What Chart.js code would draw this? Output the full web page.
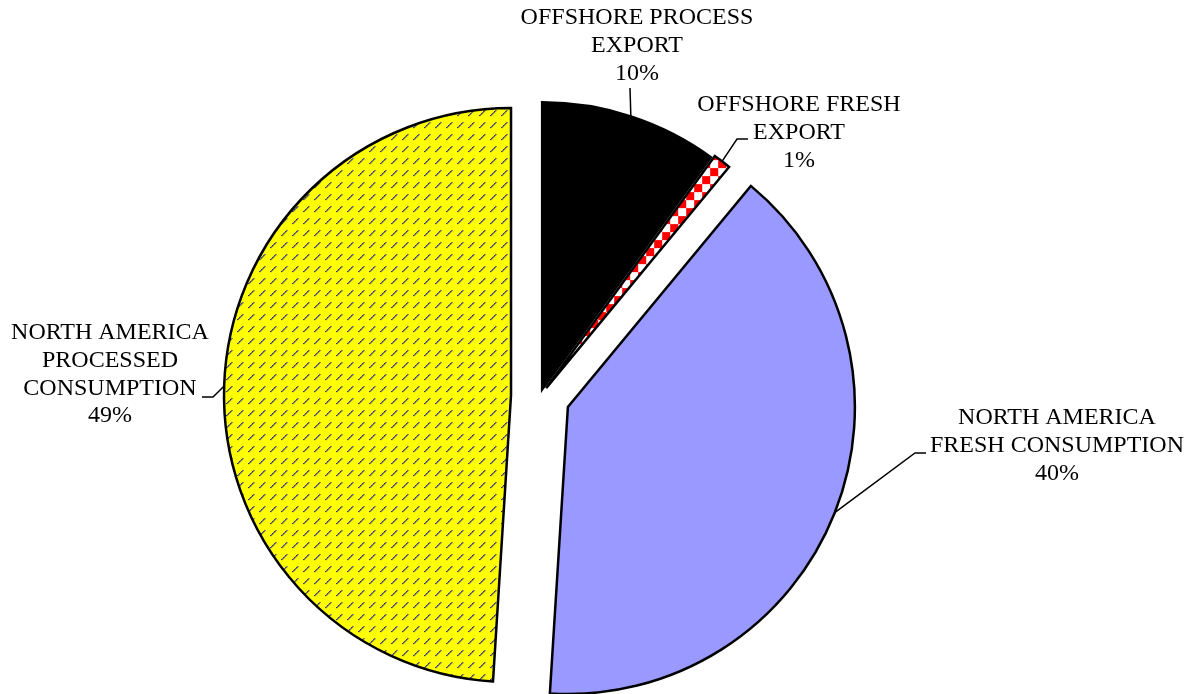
<!DOCTYPE html>
<html>
<head>
<meta charset="utf-8">
<script src="https://cdn.jsdelivr.net/npm/chart.js@4.4.1/dist/chart.umd.min.js"></script>
<style>
  html, body { margin: 0; padding: 0; background: #fff; }
  #wrap { width: 1200px; height: 694px; }
</style>
</head>
<body>
<div id="wrap"><canvas id="pieChart" width="1200" height="694"></canvas></div>
<script>
// Values
const categories = [
    ['OFFSHORE PROCESS', 'EXPORT'],
    ['OFFSHORE FRESH', 'EXPORT'],
    ['NORTH AMERICA', 'FRESH CONSUMPTION'],
    ['NORTH AMERICA', 'PROCESSED', 'CONSUMPTION']
];
const shares = [10, 1, 40, 49];

// How far each slice is pulled out (px)
const explode = [7, 10, 30, 29];

// Label placement: centre of first text line, leader elbow and leader end
const labelLayout = [
    { x: 637, y: 18, elbow: [630, 88], end: [630, 88] },
    { x: 799, y: 105, elbow: [737, 139], end: [748, 139] },
    { x: 1057, y: 418, elbow: [915, 453], end: [926, 453] },
    { x: 110, y: 333, elbow: [213, 397], end: [202, 397] }
];
const LINE_H = 27.7;

function makeHatch() {
    const c = document.createElement('canvas');
    c.width = 11; c.height = 12;
    const g = c.getContext('2d');
    g.fillStyle = '#ffff00';
    g.fillRect(0, 0, 11, 12);
    // short upward diagonal dash, dotted dark blue
    const px = [[2, 8], [3, 7], [4, 6], [5, 5], [6, 4], [7, 3]];
    px.forEach(function (p, i) {
        g.fillStyle = i % 2 ? '#4a4aa8' : '#10107a';
        g.fillRect(p[0], p[1], 1, 1);
        g.fillStyle = 'rgba(40,40,140,0.55)';
        g.fillRect(p[0] + 1, p[1], 1, 1);
    });
    return g.createPattern(c, 'repeat');
}

function makeChecker() {
    const c = document.createElement('canvas');
    c.width = 16; c.height = 16;
    const g = c.getContext('2d');
    g.fillStyle = '#ffffff';
    g.fillRect(0, 0, 16, 16);
    g.fillStyle = '#ff0000';
    g.fillRect(0, 0, 8, 8);
    g.fillRect(8, 8, 8, 8);
    return g.createPattern(c, 'repeat');
}

const total = shares.reduce((a, b) => a + b, 0);

// Draw each slice shifted outward along its middle angle
const explodePlugin = {
    id: 'explode',
    beforeDatasetDraw(chart, args) {
        const ctx = chart.ctx;
        args.meta.data.forEach(function (el, i) {
            const mid = (el.startAngle + el.endAngle) / 2;
            const d = explode[i] || 0;
            ctx.save();
            ctx.translate(Math.cos(mid) * d, Math.sin(mid) * d);
            el.draw(ctx);
            ctx.restore();
        });
        return false;
    }
};

// Labels with leader lines
const labelPlugin = {
    id: 'sliceLabels',
    afterDatasetsDraw(chart) {
        const ctx = chart.ctx;
        const meta = chart.getDatasetMeta(0);
        ctx.save();
        meta.data.forEach(function (el, i) {
            const mid = (el.startAngle + el.endAngle) / 2;
            const r = el.outerRadius + (explode[i] || 0);
            const sx = el.x + Math.cos(mid) * r;
            const sy = el.y + Math.sin(mid) * r;
            const lay = labelLayout[i];

            ctx.strokeStyle = '#000';
            ctx.lineWidth = 1.5;
            ctx.beginPath();
            ctx.moveTo(sx, sy);
            ctx.lineTo(lay.elbow[0], lay.elbow[1]);
            ctx.lineTo(lay.end[0], lay.end[1]);
            ctx.stroke();

            const lines = categories[i].concat([Math.round(shares[i] / total * 100) + '%']);
            ctx.fillStyle = '#000';
            ctx.font = '24px "Liberation Serif", "Times New Roman", serif';
            ctx.textAlign = 'center';
            ctx.textBaseline = 'middle';
            lines.forEach(function (t, k) {
                ctx.fillText(t, lay.x, lay.y + k * LINE_H);
            });
        });
        ctx.restore();
    }
};

new Chart(document.getElementById('pieChart'), {
    type: 'pie',
    data: {
        labels: categories.map(c => c.join(' ')),
        datasets: [{
            data: shares,
            backgroundColor: ['#000000', makeChecker(), '#9999ff', makeHatch()],
            borderColor: '#000000',
            borderWidth: 2.5,
            borderJoinStyle: 'miter',
            clip: false
        }]
    },
    options: {
        responsive: false,
        devicePixelRatio: 1,
        animation: false,
        events: [],
        radius: 287,
        layout: { padding: { left: 0, right: 120, top: 98, bottom: 0 } },
        plugins: {
            legend: { display: false },
            tooltip: { enabled: false }
        }
    },
    plugins: [explodePlugin, labelPlugin]
});
</script>
</body>
</html>
